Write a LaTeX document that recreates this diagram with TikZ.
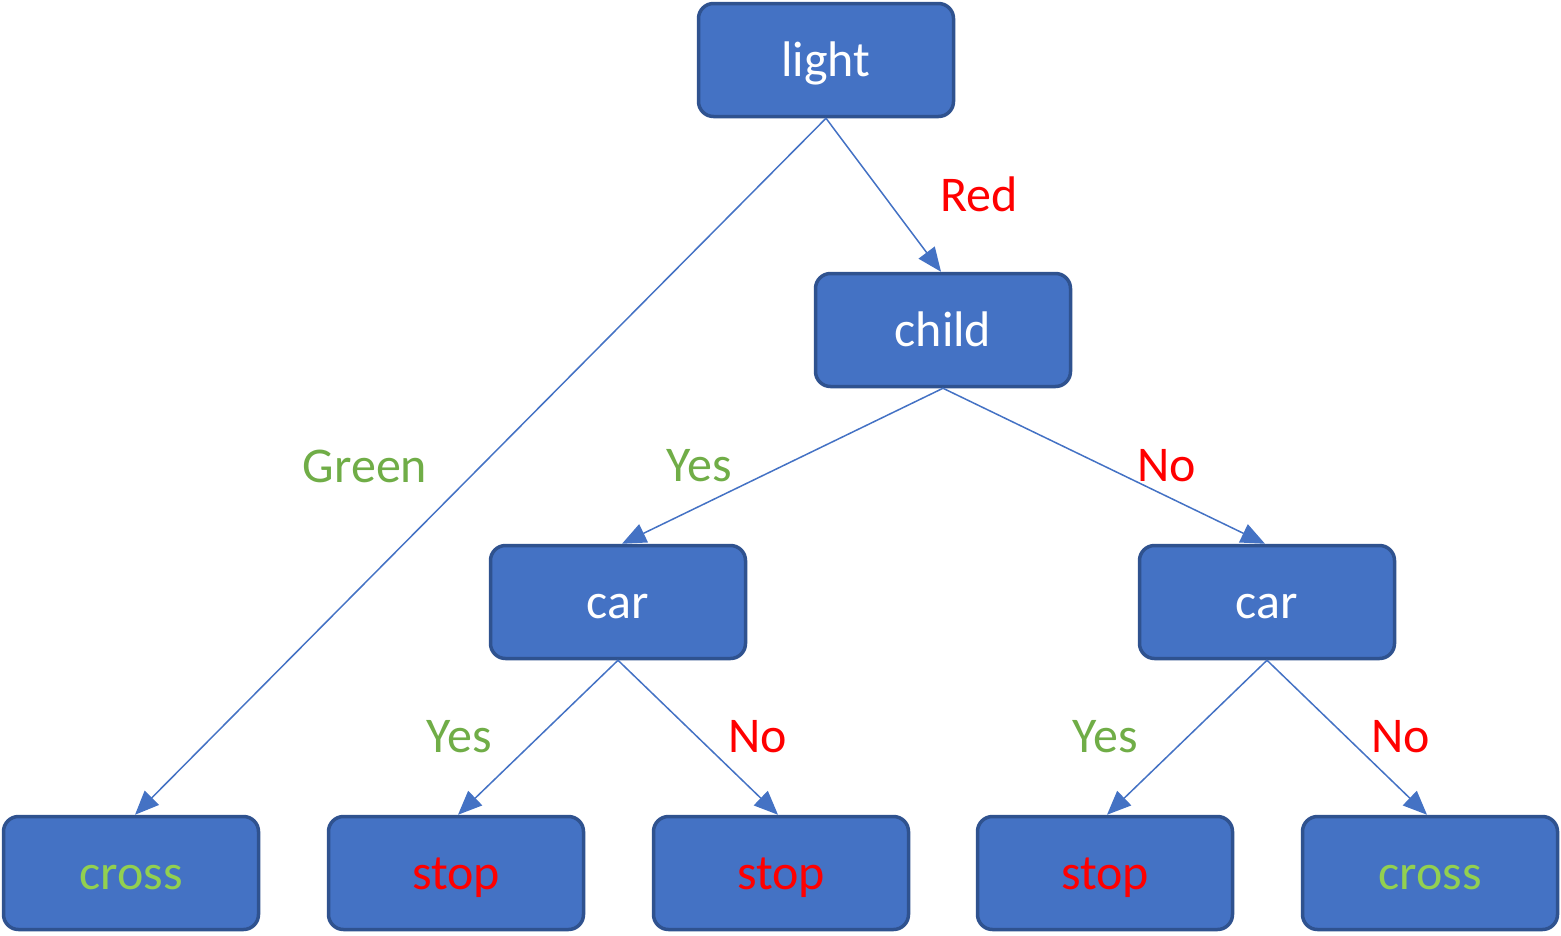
\documentclass[tikz,border=0pt]{standalone}
\usepackage{fontspec}
\setmainfont{Carlito}
\usetikzlibrary{arrows.meta}
\definecolor{boxfill}{HTML}{4472C4}
\definecolor{boxedge}{HTML}{2F528F}
\definecolor{lgreen}{HTML}{92D050}
\definecolor{dgreen}{HTML}{70AD47}
\definecolor{pred}{HTML}{FF0000}
\newcommand{\bt}[1]{\raisebox{-16pt}{#1}}
\begin{document}
\begin{tikzpicture}[x=1pt,y=-1pt,
  box/.style={draw=boxedge,fill=boxfill,line width=3.5pt,rounded corners=15pt,
    minimum width=255pt,minimum height=113pt,inner sep=0pt,
    text height=0pt,text depth=0pt,
    font=\fontsize{50}{60}\selectfont,text=white},
  conn/.style={draw=boxfill,line width=1.5pt,-{Triangle[length=24pt,width=20pt]}},
  lbl/.style={font=\fontsize{50}{60}\selectfont},
  yes/.style={lbl,text=dgreen},
  no/.style={lbl,text=pred}]
\useasboundingbox (0,0) rectangle (1561,935);
\node[box] (light) at (826,60) {\bt{light}};
\node[box] (child) at (943,330) {\bt{child}};
\node[box] (carL) at (618,602) {\bt{car}};
\node[box] (carR) at (1267,602) {\bt{car}};
\node[box,text=lgreen] (cross1) at (131,873) {\bt{cross}};
\node[box,text=pred] (stop1) at (456,873) {\bt{stop}};
\node[box,text=pred] (stop2) at (781,873) {\bt{stop}};
\node[box,text=pred] (stop3) at (1105,873) {\bt{stop}};
\node[box,text=lgreen] (cross2) at (1430,873) {\bt{cross}};
\draw[conn] (light.south) -- ([xshift=4pt]cross1.north);
\draw[conn] (light.south) -- ([xshift=-2pt]child.north);
\draw[conn] (child.south) -- ([xshift=4pt]carL.north);
\draw[conn] (child.south) -- ([xshift=-2pt]carR.north);
\draw[conn] (carL.south) -- ([xshift=2pt]stop1.north);
\draw[conn] (carL.south) -- ([xshift=-3pt]stop2.north);
\draw[conn] (carR.south) -- ([xshift=2pt]stop3.north);
\draw[conn] (carR.south) -- ([xshift=-3pt]cross2.north);
\node[no] (lred) at (979,194) {Red};
\node[yes] (lgreen) at (365,466) {Green};
\node[yes] (lyes1) at (699,466) {Yes};
\node[no] (lno1) at (1167,466) {No};
\node[yes] (lyes2) at (459,737) {Yes};
\node[no] (lno2) at (758,737) {No};
\node[yes] (lyes3) at (1105,737) {Yes};
\node[no] (lno3) at (1401,737) {No};
\end{tikzpicture}
\end{document}
